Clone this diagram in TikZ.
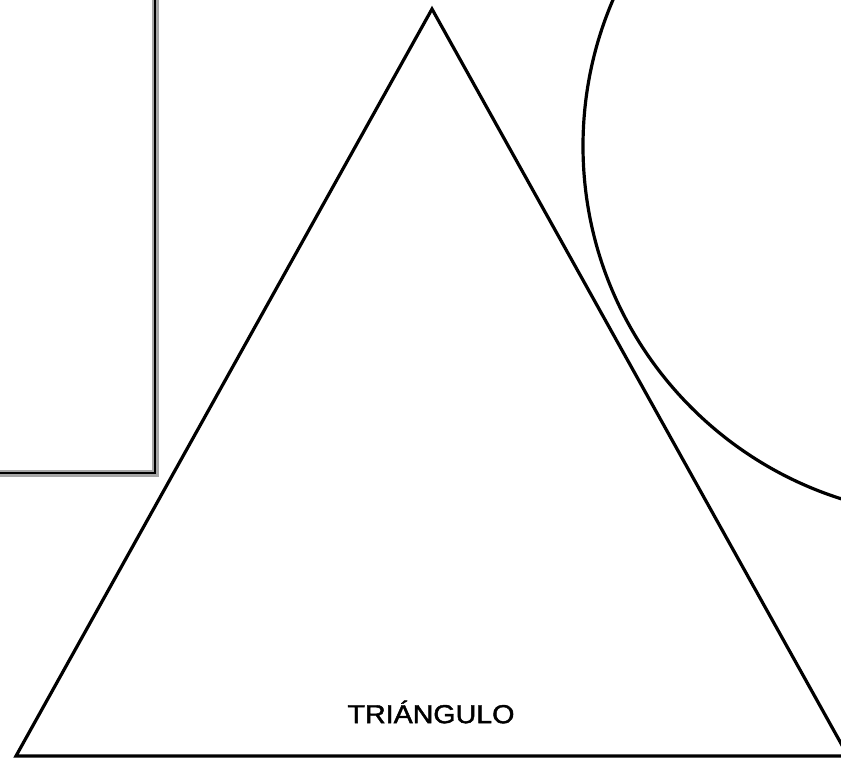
\documentclass[tikz,border=0pt]{standalone}
\usepackage{fontspec}
\setmainfont{Liberation Sans}
\newfontfamily\lblfont[FakeBold=1.6]{Liberation Sans}
\begin{document}
\begin{tikzpicture}[x=1pt,y=-1pt,
  shapeline/.style={draw=black,line width=3.2pt,line join=miter},
  label/.style={font=\lblfont\fontsize{26}{26}\selectfont,inner sep=0pt}]
\useasboundingbox (0,0) rectangle (841,758);
\clip (0,0) rectangle (841,758);
% rectangle (partly off-page)
\draw[gray!70,line width=7pt] (-20,-20) rectangle (155,473);
\draw[black,line width=2.6pt] (-20,-20) rectangle (155,473);
% circle (partly off-page)
\coordinate (cc) at (953,146);
\draw[shapeline] (cc) circle (370);
% triangle
\coordinate (apex) at (432,9);
\coordinate (bl) at (16,756);
\coordinate (br) at (848,756);
\draw[shapeline] (apex) -- (bl) -- (br) -- cycle;
\node[label,xscale=1.1] (t) at (431,712) {TRIÁNGULO};
\end{tikzpicture}
\end{document}
